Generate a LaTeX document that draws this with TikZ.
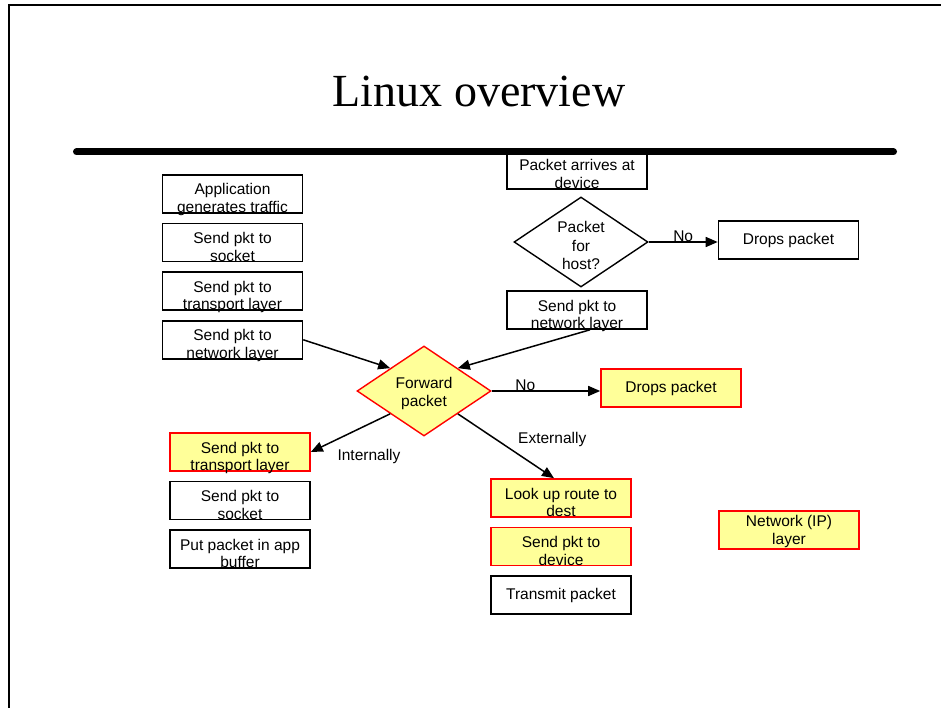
\documentclass[tikz,border=0pt]{standalone}
\usepackage{fontspec}
\setmainfont{Liberation Sans}
\newfontfamily\titlefont{Liberation Serif}
\usetikzlibrary{arrows.meta,positioning,shapes.geometric}
\definecolor{hiyellow}{HTML}{FFFF99}
\definecolor{hired}{HTML}{FF0000}

\begin{document}
\begin{tikzpicture}[
  x=1pt, y=-1pt,
  stepbox/.style={rectangle, draw, line width=1.6pt, minimum width=140pt, minimum height=38pt,
    inner sep=0pt, align=center, font=\fontsize{15.5}{17.5}\selectfont},
  twoline/.style={text height=37pt, text depth=0pt},
  ipbox/.style={stepbox, draw=hired, fill=hiyellow},
  decide/.style={diamond, aspect=1.5, draw, line width=1.4pt, minimum width=134pt, minimum height=90pt,
    inner sep=0pt, align=center, font=\fontsize{15.5}{18.5}\selectfont},
  arr/.style={-{Triangle[length=12pt,width=10pt]}, line width=1.5pt},
  lbl/.style={font=\fontsize{15.5}{17.5}\selectfont, inner sep=0pt},
  node distance=9pt
]
  \useasboundingbox (0,0) rectangle (941,708);

  % slide frame and title
  \draw[line width=2pt] (8.7,708) -- (8.7,5) -- (941,5);
  \node[font=\titlefont\fontsize{46}{50}\selectfont] (title) at (479,91) {Linux overview};

  % sending side
  \node[stepbox, twoline] (app) at (232.5,194) {Application\\generates traffic};
  \node[stepbox, twoline, below=of app] (sock1) {Send pkt to\\socket};
  \node[stepbox, twoline, below=of sock1] (trans1) {Send pkt to\\transport layer};
  \node[stepbox, twoline, below=of trans1] (net1) {Send pkt to\\network layer};

  % receiving side
  \node[stepbox, twoline] (arrive) at (577,170) {Packet arrives at\\device};
  \node[decide, text height=56pt, text depth=0pt] (host) at (581,242) {Packet\\for\\host?};
  \node[stepbox] (drop1) at (788.5,240) {Drops packet};
  \node[stepbox, twoline] (net2) at (577,310) {Send pkt to\\network layer};

  % network layer
  \node[decide, draw=hired, fill=hiyellow, text height=31pt, text depth=0pt] (fwd) at (424,391) {Forward\\packet};
  \node[ipbox] (drop2) at (671,388) {Drops packet};
  \node[ipbox, twoline] (trans2) at (240,452) {Send pkt to\\transport layer};
  \node[stepbox, twoline, below=of trans2] (sock2) {Send pkt to\\socket};
  \node[stepbox, twoline, below=of sock2] (buffer) {Put packet in app\\buffer};
  \node[ipbox, twoline] (route) at (561,498) {Look up route to\\dest};
  \node[ipbox, twoline, below=of route] (device) {Send pkt to\\device};
  \node[stepbox, below=of device] (xmit) {Transmit packet};
  \node[ipbox, text height=28pt, text depth=0pt] (iplayer) at (789,530) {Network (IP)\\layer};

  \draw[line width=7pt, line cap=round] (76.5,152) -- (893.5,152);

  \draw[arr] (host.east) -- (host.east -| drop1.west) node[lbl, midway, above] {No};
  \draw[arr] (net1.east) -- (fwd.north west);
  \draw[arr] ([xshift=13pt]net2.south) -- (fwd.north east);
  \draw[arr] (fwd.east) -- (fwd.east -| drop2.west) node[lbl, pos=0.31, above] {No};
  \draw[arr] (fwd.south west) -- (trans2.east) node[lbl, at end, right=26pt, yshift=-4pt] {Internally};
  \draw[arr] (fwd.south east) -- ([xshift=-7pt]route.north) node[lbl, pos=0.62, above right=6pt and 0pt] {Externally};
\end{tikzpicture}
\end{document}
